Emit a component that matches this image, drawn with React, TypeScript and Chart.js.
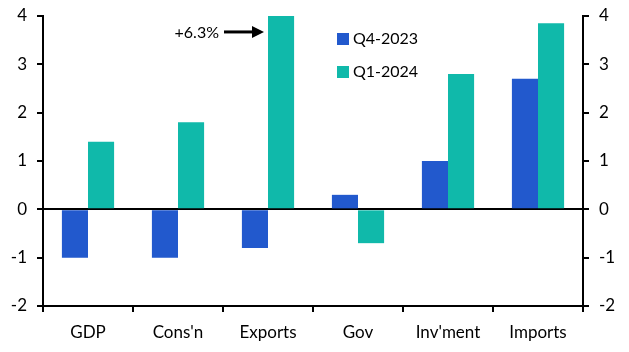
import React, { useEffect, useRef } from "react";
import { Chart, registerables } from "chart.js";

Chart.register(...registerables);

const categories = ["GDP", "Cons'n", "Exports", "Gov", "Inv'ment", "Imports"];
const q4_2023 = [-1.0, -1.0, -0.8, 0.3, 1.0, 2.7];
const q1_2024 = [1.4, 1.8, 6.3, -0.7, 2.8, 3.85];
const seriesNames = ["Q4-2023", "Q1-2024"];
const colors = ["#2259cd", "#10b9aa"];
const annotationText = "+6.3%";
const annotationIndex = 2;
const annotationLevel = 3.67;

const FONT = "Lato, 'Open Sans', sans-serif";

const overlayPlugin = {
  id: "overlay",
  afterDatasetsDraw(chart: any) {
    const ctx = chart.ctx;
    const y = chart.scales.y;
    ctx.save();
    // legend
    ctx.font = `16px ${FONT}`;
    ctx.textBaseline = "middle";
    ctx.textAlign = "left";
    const lx = 329;
    const ly = [31, 64];
    seriesNames.forEach((n, i) => {
      ctx.fillStyle = colors[i];
      ctx.fillRect(lx, ly[i] - 6, 12, 12);
      ctx.fillStyle = "#000";
      ctx.fillText(n, lx + 16, ly[i]);
    });
    // annotation arrow
    const bar = chart.getDatasetMeta(1).data[annotationIndex];
    const tipX = bar.x - bar.width / 2 - 4;
    const ay = y.getPixelForValue(annotationLevel);
    ctx.strokeStyle = "#000";
    ctx.fillStyle = "#000";
    ctx.lineWidth = 3;
    ctx.beginPath();
    ctx.moveTo(tipX - 40, ay);
    ctx.lineTo(tipX - 10, ay);
    ctx.stroke();
    ctx.beginPath();
    ctx.moveTo(tipX, ay);
    ctx.lineTo(tipX - 12, ay - 6);
    ctx.lineTo(tipX - 12, ay + 6);
    ctx.closePath();
    ctx.fill();
    ctx.font = `16px ${FONT}`;
    ctx.textAlign = "right";
    ctx.fillText(annotationText, tipX - 45, ay + 1);
    ctx.restore();
  },
};

const zeroPad = (s: any) => {
  s.paddingTop = 0;
  s.paddingBottom = 0;
  s.paddingLeft = 0;
  s.paddingRight = 0;
};

export default function App() {
  const ref = useRef<HTMLCanvasElement>(null);
  useEffect(() => {
    if (!ref.current) return;
    const chart = new Chart(ref.current, {
      type: "bar",
      data: {
        labels: categories,
        datasets: [
          { label: seriesNames[0], data: q4_2023, backgroundColor: colors[0], categoryPercentage: 0.58, barPercentage: 1.0, yAxisID: "y" },
          { label: seriesNames[1], data: q1_2024, backgroundColor: colors[1], categoryPercentage: 0.58, barPercentage: 1.0, yAxisID: "y" },
        ],
      },
      options: {
        animation: false,
        responsive: true,
        maintainAspectRatio: false,
        layout: { padding: { top: 8, bottom: 0, left: 0, right: 0 } },
        plugins: { legend: { display: false }, tooltip: { enabled: false } },
        scales: {
          x: {
            afterFit: (s: any) => { s.height = 38; zeroPad(s); },
            grid: { display: true, drawOnChartArea: false, offset: true, tickLength: 6, tickColor: "#000", lineWidth: 2 },
            border: { display: true, color: "#000", width: 2 },
            ticks: { color: "#000", font: { family: FONT, size: 17 }, padding: 10 },
          },
          y: {
            position: "left",
            min: -2,
            max: 4,
            afterFit: (s: any) => { s.width = 35; zeroPad(s); },
            grid: {
              drawOnChartArea: true,
              color: (c: any) => (c.tick && c.tick.value === 0 ? "#000" : "rgba(0,0,0,0)"),
              lineWidth: 2,
              tickColor: "#000",
              tickLength: 6,
            },
            border: { display: true, color: "#000", width: 2 },
            ticks: { stepSize: 1, color: "#000", font: { family: FONT, size: 17 }, padding: 10 },
          },
          y2: {
            position: "right",
            min: -2,
            max: 4,
            afterFit: (s: any) => { s.width = 38; zeroPad(s); },
            grid: { drawOnChartArea: false, tickColor: "#000", tickLength: 6, lineWidth: 2 },
            border: { display: true, color: "#000", width: 2 },
            ticks: { stepSize: 1, color: "#000", font: { family: FONT, size: 17 }, padding: 10 },
          },
        },
      },
      plugins: [overlayPlugin],
    });
    return () => chart.destroy();
  }, []);
  return (
    <div style={{ width: 613, height: 336, position: "relative" }}>
      <canvas ref={ref} />
    </div>
  );
}
